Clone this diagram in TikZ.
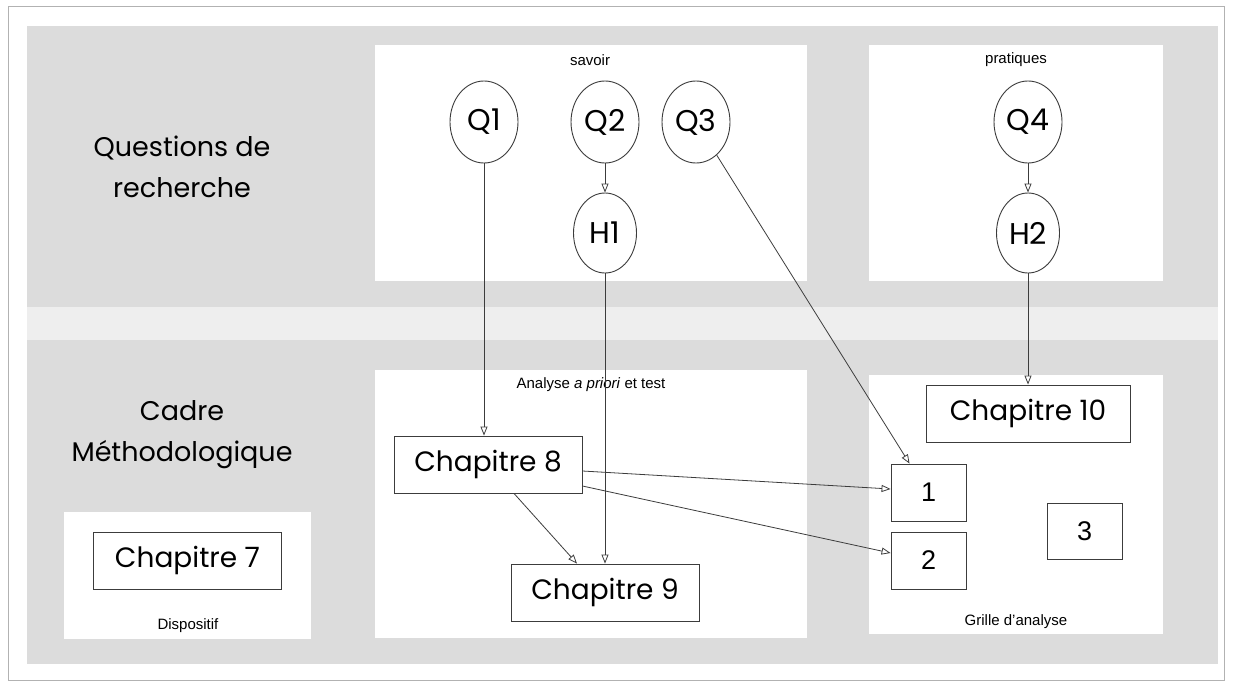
\documentclass[tikz,border=0pt]{standalone}
\usepackage{fontspec}
\setmainfont{Liberation Sans}
\newfontfamily\gothic{Poppins}
\usetikzlibrary{shapes.geometric}
\usetikzlibrary{arrows.meta}
\usepackage{xcolor}

\definecolor{bandgray}{RGB}{220,220,220}
\definecolor{stripgray}{RGB}{238,238,238}
\definecolor{linegray}{RGB}{60,60,60}

\tikzset{
  bulle/.style={ellipse, draw=linegray, line width=0.9pt, inner sep=0pt,
    minimum width=68pt, minimum height=82pt, font=\gothic\fontsize{30}{30}\selectfont},
  hypo/.style={bulle, minimum width=63pt, minimum height=80pt},
  chap/.style={rectangle, draw=linegray, line width=0.9pt, inner sep=0pt,
    minimum width=188pt, minimum height=57pt, font=\gothic\fontsize{28}{28}\selectfont},
  case/.style={chap, minimum width=75pt, font=\fontsize{27}{27}\selectfont},
  fleche/.style={draw=linegray, line width=0.8pt, -{Triangle[open,length=9pt,width=7pt]}},
  petit/.style={font=\fontsize{15}{15}\selectfont},
  titre/.style={font=\gothic\fontsize{27}{41}\selectfont, align=center},
  panneau/.style={fill=white}
}

\begin{document}
\begin{tikzpicture}[x=1pt,y=-1pt]

\useasboundingbox (0,0) rectangle (1236,682);
\fill[white] (0,0) rectangle (1236,682);
\draw[gray!60, line width=1pt] (8,7) rectangle (1224,680);

% bands
{
\fill[bandgray] (27,26) rectangle (1218,307);
\fill[stripgray] (27,307) rectangle (1218,340);
\fill[bandgray] (27,340) rectangle (1218,664);

\fill[panneau] (375,45) rectangle (807,281);
\fill[panneau] (869,45) rectangle (1163,281);
\fill[panneau] (375,370) rectangle (807,638);
\fill[panneau] (869,375) rectangle (1163,634);
\fill[panneau] (64,512) rectangle (311,639);
}

% nodes
{
\node[titre] (qr) at (182,167) {Questions de\\recherche};
\node[titre] (cm) at (182,435) {Cadre\\Méthodologique};

\node[petit] (savoir) at (590,60) {savoir};
\node[petit] (pratiques) at (1016,60) {pratiques};
\node[petit] (analyse) at (591,385) {Analyse \textit{a priori} et test};
\node[petit] (grille) at (1016,622) {Grille d’analyse};
\node[petit] (dispositif) at (188,626) {Dispositif};

\node[bulle] (q1) at (484,122) {Q1};
\node[bulle] (q2) at (605,122) {Q2};
\node[bulle] (q3) at (696,122) {Q3};
\node[bulle] (q4) at (1028,122) {Q4};
\node[hypo] (h1) at (605,233) {H1};
\node[hypo] (h2) at (1028,233) {H2};

\node[chap] (ch7) at (187.5,560.5) {Chapitre 7};
\node[chap] (ch8) at (488,464.5) {Chapitre 8};
\node[chap] (ch9) at (605,592.5) {Chapitre 9};
\node[chap, minimum width=204pt] (ch10) at (1028,413.5) {Chapitre 10};

\node[case] (c1) at (928.5,492.5) {1};
\node[case] (c2) at (928.5,560.5) {2};
\node[case, minimum height=56pt] (c3) at (1084.5,531) {3};
}

% arrows
{
\draw[fleche] (q2) -- (h1);
\draw[fleche] (q4) -- (h2);
\draw[fleche] (q1.south) -- (q1.south |- ch8.north);
\draw[fleche] (h1) -- (ch9);
\draw[fleche] (h2) -- (ch10);
\draw[fleche] (q3) -- ([xshift=19pt]c1.north west);
\draw[fleche] ([yshift=-6.5pt]ch8.east) -- ([yshift=3.5pt]c1.west);
\draw[fleche] ([yshift=-21.5pt]ch8.east) -- ([yshift=7.5pt]c2.west);
\draw[fleche] ([xshift=26pt]ch8.south) -- ([xshift=-28pt]ch9.north);
}

\end{tikzpicture}
\end{document}
